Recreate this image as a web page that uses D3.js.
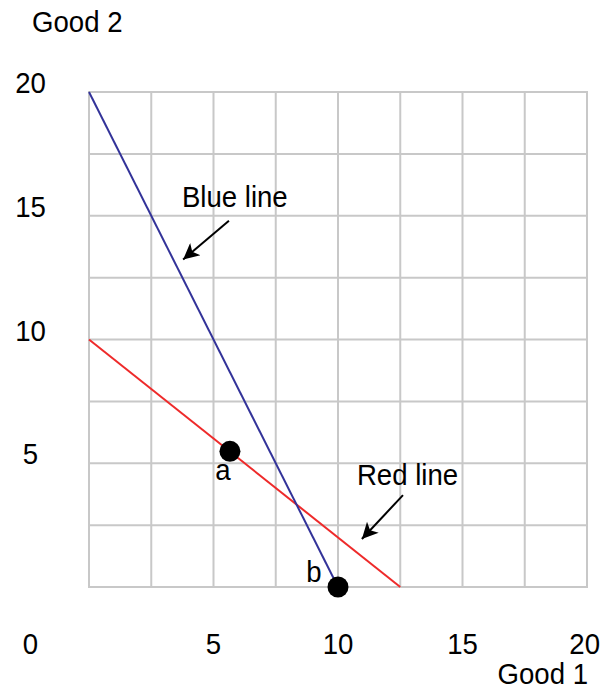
<!DOCTYPE html>
<html>
<head>
<meta charset="utf-8">
<script src="https://cdn.jsdelivr.net/npm/d3@7"></script>
<style>
  body { margin: 0; background: #fff; }
  text { font-family: "Liberation Sans", Arial, sans-serif; font-size: 30px; fill: #000; }
</style>
</head>
<body>
<div id="chart"></div>
<script>
// data
const gridValues = [0, 2.5, 5, 7.5, 10, 12.5, 15, 17.5, 20]
const xTicks = [5, 10, 15, 20]
const yTicks = [5, 10, 15, 20]
const blueLine = [[0, 20], [10, 0]]
const redLine = [[0, 10], [12.5, 0]]
const points = [
    { name: "a", x: 5.66, y: 5.48 },
    { name: "b", x: 10, y: 0 }
]
const labels = [
    { text: "Blue line", x: 3.73, y: 15.36, from: [5.62, 14.8], to: [3.78, 13.23] },
    { text: "Red line", x: 10.76, y: 4.11, from: [12.61, 3.71], to: [10.96, 1.94] }
]

width = 602
height = 689
margin = ({ top: 92, right: 15, bottom: 102, left: 89 })

var svg = d3.select("#chart")
    .append("svg")
    .attr("width", width)
    .attr("height", height)

var x = d3.scaleLinear().domain([0, 20]).range([margin.left, width - margin.right])
var y = d3.scaleLinear().domain([0, 20]).range([height - margin.bottom, margin.top])

// the original font is a bit narrower than Arial, so squeeze it sideways
function addText(parent, tx, ty, str, anchor) {
    return parent.append("text")
        .attr("transform", `translate(${tx},${ty}) scale(0.92,1)`)
        .attr("text-anchor", anchor || "start")
        .text(str)
}

// grid
var grid = svg.append("g").attr("stroke", "#c8c8c8").attr("stroke-width", 2)
grid.selectAll(".v").data(gridValues).enter().append("line")
    .attr("x1", d => x(d)).attr("x2", d => x(d))
    .attr("y1", y(0) + 1).attr("y2", y(20) - 1)
grid.selectAll(".h").data(gridValues).enter().append("line")
    .attr("y1", d => y(d)).attr("y2", d => y(d))
    .attr("x1", x(0) - 1).attr("x2", x(20) + 1)

// tick labels
var ticks = svg.append("g")
xTicks.forEach(d => {
    if (d == 20) addText(ticks, x(d) + 13, y(0) + 67, d, "end")
    else addText(ticks, x(d), y(0) + 67, d, "middle")
})
yTicks.forEach(d => addText(ticks, 30.5, y(d) + 1, d, "middle"))
addText(ticks, 30.5, y(0) + 67, "0", "middle")

// axis titles
addText(svg, 32, 32, "Good 2")
addText(svg, 588, 684, "Good 1", "end")

// lines
var line = d3.line().x(d => x(d[0])).y(d => y(d[1]))
svg.append("path").datum(redLine).attr("d", line)
    .attr("fill", "none").attr("stroke", "#ee2a2a").attr("stroke-width", 2)
svg.append("path").datum(blueLine).attr("d", line)
    .attr("fill", "none").attr("stroke", "#333399").attr("stroke-width", 2)

// points
svg.append("g").selectAll("circle").data(points).enter().append("circle")
    .attr("cx", d => x(d.x)).attr("cy", d => y(d.y)).attr("r", 10.5)
    .attr("fill", "#000")

addText(svg, x(points[0].x) - 7, y(points[0].y) + 29, points[0].name, "middle")
addText(svg, x(points[1].x) - 24, y(points[1].y) - 5, points[1].name, "middle")

// annotations with arrows
svg.append("defs").append("marker")
    .attr("id", "arrow")
    .attr("viewBox", "0 0 10 10")
    .attr("refX", 10).attr("refY", 5)
    .attr("markerWidth", 11).attr("markerHeight", 8)
    .attr("markerUnits", "strokeWidth")
    .attr("orient", "auto")
    .append("path").attr("d", "M0,0 L10,5 L0,10 L2.5,5 z").attr("fill", "#000")

var notes = svg.append("g")
labels.forEach(d => addText(notes, x(d.x), y(d.y), d.text))
notes.selectAll("line").data(labels).enter().append("line")
    .attr("x1", d => x(d.from[0])).attr("y1", d => y(d.from[1]))
    .attr("x2", d => x(d.to[0])).attr("y2", d => y(d.to[1]))
    .attr("stroke", "#000").attr("stroke-width", 2)
    .attr("marker-end", "url(#arrow)")
</script>
</body>
</html>
